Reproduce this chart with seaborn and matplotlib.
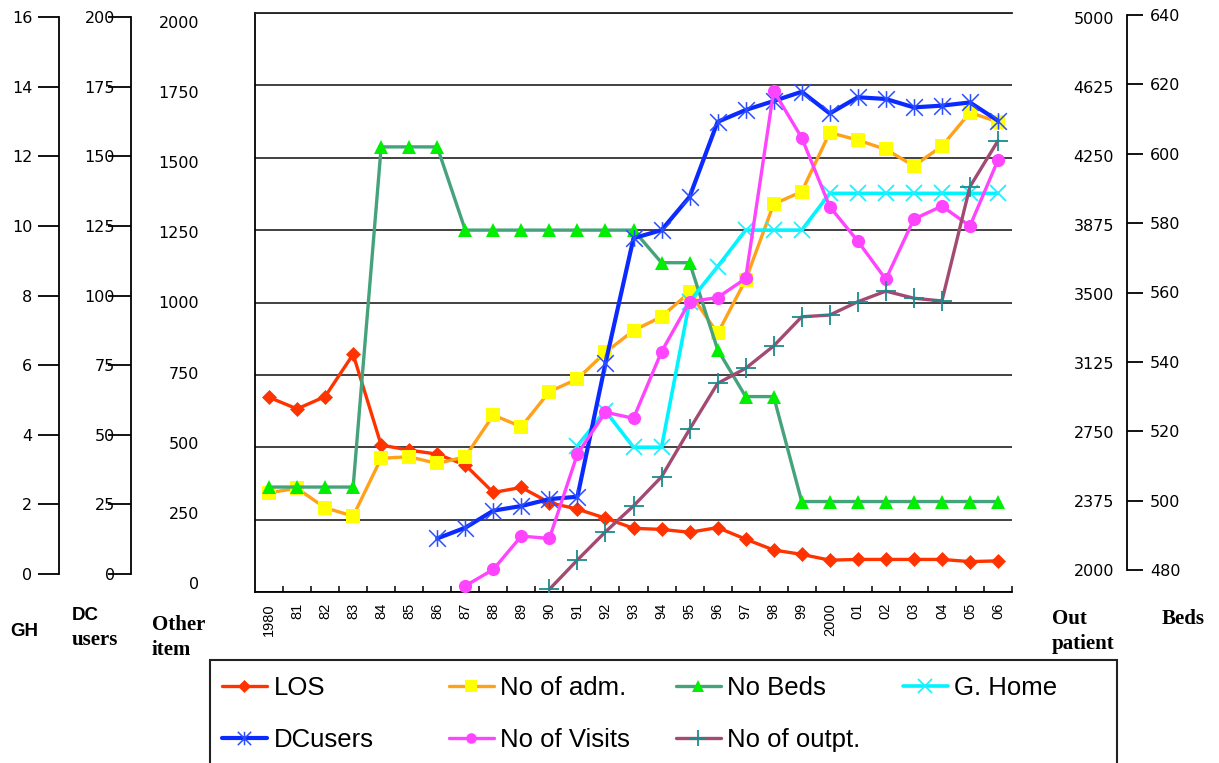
import numpy as np
import matplotlib
matplotlib.use("Agg")
import matplotlib.pyplot as plt
from matplotlib.path import Path
from matplotlib.patches import Rectangle
from matplotlib.ticker import FixedLocator, NullLocator
import seaborn as sns

# ---------------- data ----------------
years = ["1980", "81", "82", "83", "84", "85", "86", "87", "88", "89",
         "90", "91", "92", "93", "94", "95", "96", "97", "98", "99",
         "2000", "01", "02", "03", "04", "05", "06"]

nan = np.nan
los = [5.38, 5.06, 5.40, 6.57, 4.06, 3.92, 3.81, 3.51, 2.75, 2.89,
       2.47, 2.29, 2.04, 1.76, 1.73, 1.65, 1.78, 1.46, 1.16, 1.04,
       0.88, 0.90, 0.90, 0.90, 0.90, 0.84, 0.86]
no_adm = [343, 358, 291, 262, 462, 467, 444, 467, 611, 571,
          692, 736, 828, 903, 951, 1035, 893, 1078, 1340, 1383,
          1587, 1561, 1529, 1472, 1540, 1656, 1624]
no_beds = [509, 509, 509, 509, 603, 603, 603, 580, 580, 580,
           580, 580, 580, 580, 571, 571, 547, 534, 534, 505,
           505, 505, 505, 505, 505, 505, 505]
g_home = [nan, nan, nan, nan, nan, nan, nan, nan, nan, nan,
          nan, 505, 625, 500, 500, 1003, 1124, 1250, 1250, 1250,
          1377, 1377, 1377, 1377, 1377, 1377, 1377]
dc_users = [nan, nan, nan, nan, nan, nan, 18.5, 22.2, 28.1, 29.7,
            32.1, 32.9, 79.0, 122.2, 125.0, 136.5, 162.4, 166.5, 169.6, 172.8,
            165.3, 170.9, 170.3, 167.4, 168.0, 169.1, 162.8]
no_visits = [nan, nan, nan, nan, nan, nan, nan, 21, 78, 193,
             185, 477, 621, 600, 830, 1003, 1017, 1083, 1731, 1569,
             1331, 1212, 1080, 1288, 1333, 1264, 1492]
no_outpt = [nan, nan, nan, nan, nan, nan, nan, nan, nan, nan,
            2014, 2166, 2312, 2446, 2597, 2843, 3081, 3159, 3275, 3426,
            3435, 3504, 3559, 3522, 3508, 4100, 4338]

# scale ranges of the five value axes
gh_ticks = list(range(0, 17, 2))
dc_ticks = list(range(0, 201, 25))
other_ticks = list(range(0, 2001, 250))
outpt_ticks = list(range(2000, 5001, 375))
beds_ticks = list(range(480, 641, 20))

# ---------------- figure ----------------
sns.set_style("white")
plt.rcParams["font.family"] = ["DejaVu Sans"]
plt.rcParams["text.color"] = "black"
plt.rcParams["xtick.color"] = "black"
plt.rcParams["ytick.color"] = "black"
plt.rcParams["axes.labelcolor"] = "black"

W, H = 1219, 763
fig = plt.figure(figsize=(W / 100, H / 100), dpi=100)


def box(x0, y0, x1, y1):
    """Pixel box (top-left origin) -> figure-fraction rect."""
    return [x0 / W, 1 - y1 / H, (x1 - x0) / W, (y1 - y0) / H]


def px(x, y):
    return x / W, 1 - y / H


PLOT = (255, 13, 1012, 592)
x = np.arange(len(years))

# main frame with the grid
ax = fig.add_axes(box(*PLOT))
ax.set_xlim(-0.5, len(years) - 0.5)
ax.set_ylim(0, 2000)
ax.yaxis.set_major_locator(FixedLocator(other_ticks))
ax.tick_params(axis="y", length=0, labelleft=False)
ax.grid(axis="y", color="#333333", linewidth=1.3)
ax.grid(axis="x", visible=False)
ax.set_axisbelow(True)
for side in ("left", "bottom"):
    ax.spines[side].set_color("black")
    ax.spines[side].set_linewidth(1.3)
ax.spines["top"].set_color("#222222")
ax.spines["top"].set_linewidth(1.3)
ax.spines["right"].set_visible(False)
ax.set_xticks(x)
ax.set_xticklabels(years, rotation=90, family="Liberation Sans", fontsize=10.5,
                   va="top", ha="center", color="black")
ax.xaxis.set_minor_locator(FixedLocator(np.arange(0.5, len(years), 1.0)))
ax.tick_params(axis="x", which="major", bottom=True, length=0, pad=8)
ax.tick_params(axis="x", which="minor", bottom=True, direction="in",
               length=4.5, width=1.1, color="black")

# asterisk marker (X plus vertical bar)
star = Path([(-1, -1), (1, 1), (-1, 1), (1, -1), (0, -1), (0, 1)],
            [Path.MOVETO, Path.LINETO, Path.MOVETO, Path.LINETO,
             Path.MOVETO, Path.LINETO])

series = [
    # label, values, y-range, line kwargs
    ("LOS", los, (0, 16),
     dict(color="#ff3300", linewidth=2.4, marker="D", markersize=7.2,
          markerfacecolor="#ff3300", markeredgecolor="#ff3300",
          markeredgewidth=0.5)),
    ("No of adm.", no_adm, (0, 2000),
     dict(color="#ffa21a", linewidth=2.4, marker="s", markersize=10,
          markerfacecolor="#ffff00", markeredgecolor="#ffff00",
          markeredgewidth=0)),
    ("No Beds", no_beds, (480, 640),
     dict(color="#45a37c", linewidth=2.4, marker="^", markersize=10.5,
          markerfacecolor="#00ee00", markeredgecolor="#00ee00",
          markeredgewidth=0)),
    ("G. Home", g_home, (0, 2000),
     dict(color="#00f4ff", linewidth=2.6, marker="x", markersize=12,
          markeredgecolor="#22f0ff", markeredgewidth=1.3)),
    ("DCusers", dc_users, (0, 200),
     dict(color="#0a2aff", linewidth=3.0, marker=star, markersize=12,
          markerfacecolor="none", markeredgecolor="#2a4dff",
          markeredgewidth=1.1)),
    ("No of Visits", no_visits, (0, 2000),
     dict(color="#ff44ff", linewidth=2.4, marker="o", markersize=9.5,
          markerfacecolor="#ff44ff", markeredgecolor="#ff44ff",
          markeredgewidth=0)),
    ("No of outpt.", no_outpt, (2000, 5000),
     dict(color="#a34a72", linewidth=2.4, marker="+", markersize=14,
          markeredgecolor="#1a8c8c", markeredgewidth=1.3)),
]

handles = {}
for label, vals, (lo, hi), kw in series:
    sax = fig.add_axes(box(*PLOT))
    sns.lineplot(x=x, y=np.asarray(vals, dtype=float), ax=sax, sort=False,
                 errorbar=None, label=label, legend=False, **kw)
    sax.set_xlim(-0.5, len(years) - 0.5)
    sax.set_ylim(lo, hi)
    sax.axis("off")
    sax.patch.set_visible(False)
    handles[label] = sax.lines[-1]

# ---------------- value axes ----------------
tick_font = dict(family="DejaVu Sans", size=11.5)


def scale_axis(rect, lim, ticks, side, spine, length, pad):
    a = fig.add_axes(rect)
    a.patch.set_visible(False)
    a.set_ylim(*lim)
    a.set_yticks(ticks)
    a.xaxis.set_major_locator(NullLocator())
    for s in ("left", "right", "top", "bottom"):
        a.spines[s].set_visible(False)
    if side == "right":
        a.yaxis.tick_right()
        a.tick_params(axis="y", right=True, left=False)
    else:
        a.tick_params(axis="y", left=True, right=False)
    if spine:
        a.spines[side].set_visible(True)
        a.spines[side].set_linewidth(1.3)
        a.spines[side].set_color("black")
    a.tick_params(axis="y", direction="out", length=length, width=1.3,
                  pad=pad, colors="black")
    for t in a.get_yticklabels():
        t.set_fontfamily(tick_font["family"])
        t.set_fontsize(tick_font["size"])
    return a


scale_axis(box(59, 17, 60, 574), (0, 16), gh_ticks, "left", True, 15, 4.3)
scale_axis(box(131, 17, 132, 574), (0, 200), dc_ticks, "left", True, 16.5, -5)
scale_axis(box(201, 22, 202, 583), (0, 2000), other_ticks, "left", False, 0, 1.5)
scale_axis(box(1116, 18, 1117, 570), (2000, 5000), outpt_ticks, "left", False, 0, 1.5)
scale_axis(box(1126, 15, 1127, 570), (480, 640), beds_ticks, "right", True, 11.5, 5)

# axis titles
sans_b = dict(family="Liberation Sans", weight="bold", size=13.5, color="black")
serif_b = dict(family="Liberation Serif", weight="bold", size=15, color="black")
fig.text(*px(10, 631), "GH", va="center", ha="left", **sans_b)
fig.text(*px(72, 615), "DC", va="center", ha="left", **sans_b)
fig.text(*px(72, 640), "users", va="center", ha="left", **serif_b)
fig.text(*px(152, 625), "Other", va="center", ha="left", **serif_b)
fig.text(*px(152, 650), "item", va="center", ha="left", **serif_b)
fig.text(*px(1052, 619), "Out", va="center", ha="left", **serif_b)
fig.text(*px(1052, 644), "patient", va="center", ha="left", **serif_b)
fig.text(*px(1162, 619), "Beds", va="center", ha="left", **serif_b)

# ---------------- legend ----------------
fig.add_artist(Rectangle(px(210, 800), (1117 - 210) / W, (800 - 660) / H,
                         transform=fig.transFigure, fill=False,
                         edgecolor="#222222", linewidth=1.5))
legend_slots = [
    ("LOS", 222, 688), ("No of adm.", 449, 688), ("No Beds", 676, 688),
    ("G. Home", 903, 688), ("DCusers", 222, 740), ("No of Visits", 449, 740),
    ("No of outpt.", 676, 740),
]
for label, lx, ly in legend_slots:
    fig.legend([handles[label]], [label], loc="center left",
               bbox_to_anchor=px(lx, ly), frameon=False, borderpad=0,
               borderaxespad=0, handlelength=1.75, handletextpad=0.25,
               markerscale=0.8, labelcolor="black",
               prop=dict(family="Liberation Sans", size=18.5))

fig.savefig("out.png", dpi=100)
